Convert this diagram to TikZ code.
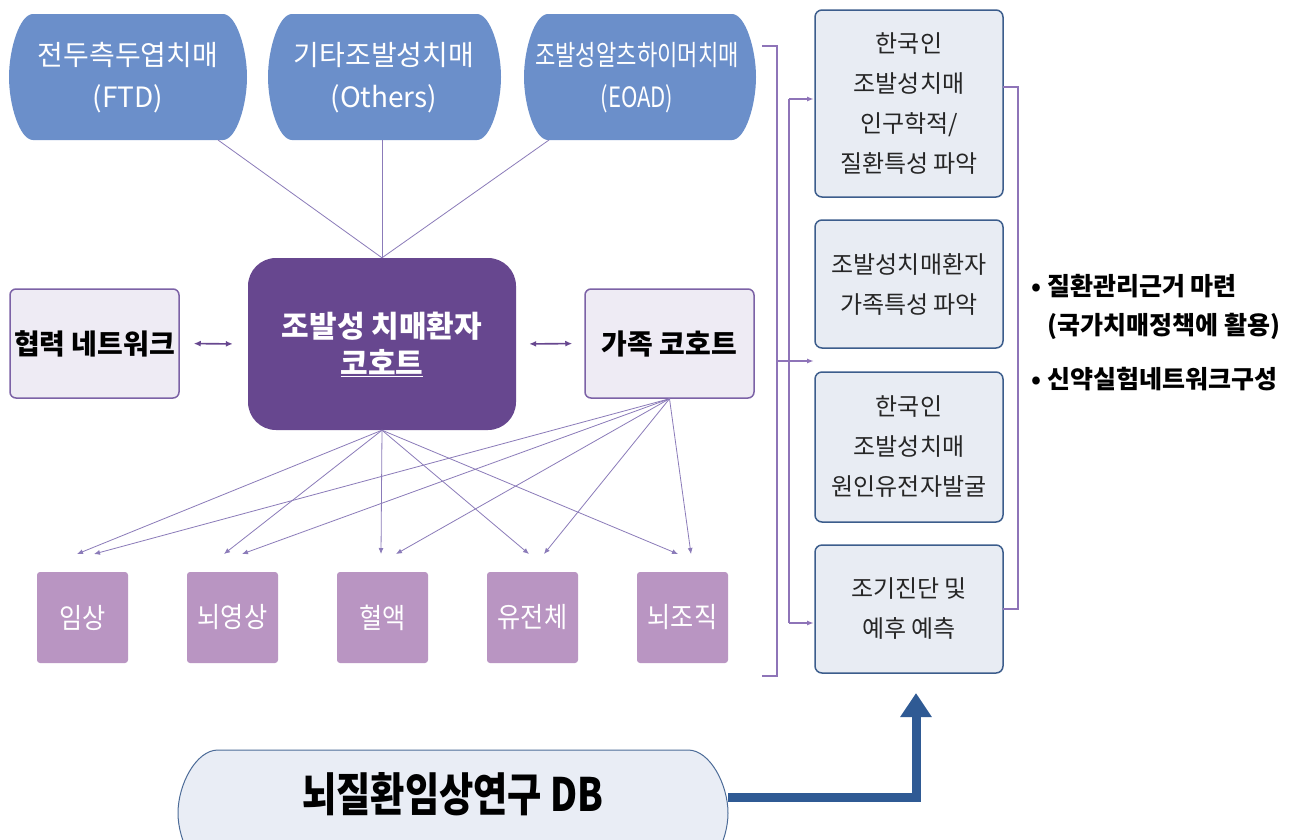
\documentclass[tikz,border=0pt]{standalone}
\usepackage{fontspec}
\setmainfont{Noto Sans CJK KR}
\newfontfamily\condA{Noto Sans CJK KR}[FakeStretch=0.79]
\newfontfamily\condB{Noto Sans CJK KR}[FakeStretch=0.81]
\newfontfamily\condC{Noto Sans CJK KR}[FakeStretch=0.9]
\usetikzlibrary{arrows.meta}
\definecolor{pillblue}{HTML}{6B8FCA}
\definecolor{cenpurple}{HTML}{67478F}
\definecolor{lav}{HTML}{EEEBF4}
\definecolor{lavborder}{HTML}{7C62A6}
\definecolor{mauve}{HTML}{B995C2}
\definecolor{rfill}{HTML}{E8ECF3}
\definecolor{rborder}{HTML}{3C5D8C}
\definecolor{conn}{HTML}{8B7BB9}
\definecolor{brkc}{HTML}{8E74B8}
\definecolor{darrow}{HTML}{2F5A94}
\definecolor{dbfill}{HTML}{E9EDF5}
\definecolor{dbborder}{HTML}{4D6C98}
% #1 style, #2 x1, #3 y1, #4 x2, #5 y2, #6 rx
\newcommand{\pillpath}[6]{%
  \path[#1] ({#2+#6},#3) -- ({#4-#6},#3)
    .. controls ({#4-0.448*#6},#3) and (#4,{#3+0.276*(#5-#3)}) .. (#4,{(#3+#5)/2})
    .. controls (#4,{#5-0.276*(#5-#3)}) and ({#4-0.448*#6},#5) .. ({#4-#6},#5)
    -- ({#2+#6},#5)
    .. controls ({#2+0.448*#6},#5) and (#2,{#5-0.276*(#5-#3)}) .. (#2,{(#3+#5)/2})
    .. controls (#2,{#3+0.276*(#5-#3)}) and ({#2+0.448*#6},#3) .. cycle;}
\begin{document}
\begin{tikzpicture}[x=1pt,y=-1pt,
  toptext/.style={text=white,font=\fontsize{28}{42}\selectfont,align=center},
  cenbox/.style={fill=cenpurple,rounded corners=28pt,minimum width=268pt,minimum height=172pt,
    text=white,font=\bfseries\fontsize{30}{37}\selectfont,align=center},
  sidebox/.style={fill=lav,draw=lavborder,line width=1.5pt,rounded corners=6pt,
    minimum width=169pt,minimum height=109pt,font=\bfseries\fontsize{28}{30}\selectfont},
  botbox/.style={fill=mauve,rounded corners=3pt,minimum width=91pt,minimum height=91pt,
    text=white,font=\condC\fontsize{28}{30}\selectfont},
  rbox/.style={fill=rfill,draw=rborder,line width=1.5pt,rounded corners=7pt,minimum width=188pt,
    text=black!85,font=\fontsize{24}{40}\selectfont,align=center},
  conn/.style={draw=conn,line width=0.8pt},
  connarrow/.style={conn,-{Latex[length=6pt,width=5pt]}},
  dblarrow/.style={draw=cenpurple,line width=1.6pt,{Latex[length=7pt,width=6pt]}-{Latex[length=7pt,width=6pt]}},
  brk/.style={draw=brkc,line width=1.5pt},
  brkarrow/.style={brk,-{Latex[length=7pt,width=5pt]}},
  bullet/.style={anchor=west,font=\bfseries\fontsize{25}{28}\selectfont},
  dbtext/.style={font=\condB\bfseries\fontsize{46}{50}\selectfont,minimum width=550pt},
  bigarrow/.style={draw=darrow,line width=9pt,-{Triangle[length=24pt,width=30pt]}}
]
\clip (0,0) rectangle (1290,839);
\fill[white] (0,0) rectangle (1290,839);

% top pills
\pillpath{fill=pillblue}{9}{14}{247}{140}{24}
\pillpath{fill=pillblue}{268}{14}{501}{140}{24}
\pillpath{fill=pillblue}{524}{14}{756}{140}{24}
\node[toptext] (ftd) at (128,78) {전두측두엽치매\\(FTD)};
\node[toptext] (oth) at (384,78) {기타조발성치매\\(Others)};
\node[toptext,font=\condA\fontsize{28}{42}\selectfont] (eoad) at (637,78) {조발성알츠하이머치매\\(EOAD)};
\coordinate (ftdout) at (218,140);
\coordinate (othout) at (382,140);
\coordinate (eoadout) at (549,140);

% middle row
\node[cenbox] (cen) at (382,344) {조발성 치매환자\\\underline{코호트}};
\node[sidebox] (net) at (94.5,343.5) {협력 네트워크};
\node[sidebox] (fam) at (669.5,343.5) {가족 코호트};

\draw[conn] (ftdout) -- (cen.north);
\draw[conn] (othout) -- (cen.north);
\draw[conn] (eoadout) -- (cen.north);

\draw[dblarrow,shorten <=14pt,shorten >=15pt] (net.east) -- (cen.west);
\draw[dblarrow,shorten <=13pt,shorten >=12pt] (cen.east) -- (fam.west);

% bottom boxes
\node[botbox] (b1) at (82.5,617.5) {임상};
\node[botbox] (b2) at (232.5,617.5) {뇌영상};
\node[botbox] (b3) at (382.5,617.5) {혈액};
\node[botbox] (b4) at (532.5,617.5) {유전체};
\node[botbox] (b5) at (682.5,617.5) {뇌조직};

\coordinate (c1) at (77,554);
\coordinate (c2) at (224,554);
\coordinate (c3) at (381,554);
\coordinate (c4) at (529,554);
\coordinate (c5) at (678,554);
\coordinate (f1) at (94,554);
\coordinate (f2) at (242,554);
\coordinate (f3) at (396,554);
\coordinate (f4) at (544,554);
\coordinate (f5) at (691,554);
\foreach \t in {c1,c2,c3,c4,c5} \draw[connarrow] (cen.south) -- (\t);
\foreach \t in {f1,f2,f3,f4,f5} \draw[connarrow] (fam.south) -- (\t);

% right column
\node[rbox,minimum height=187pt] (r1) at (909,103.5) {한국인\\조발성치매\\인구학적/\\질환특성 파악};
\node[rbox,minimum height=128pt] (r2) at (909,284) {조발성치매환자\\가족특성 파악};
\node[rbox,minimum height=150pt] (r3) at (909,447) {한국인\\조발성치매\\원인유전자발굴};
\node[rbox,minimum height=128pt] (r4) at (909,609) {조기진단 및\\예후 예측};

% brackets
\draw[brk] (762,46) -- (777,46) -- (777,676) -- (762,676);
\coordinate (mid) at (777,361);
\coordinate (midend) at (814,361);
\draw[brkarrow] (mid) -- (midend);
\coordinate (v1) at (789,99);
\coordinate (v4) at (789,623);
\coordinate (a1) at (814,99);
\coordinate (a4) at (814,623);
\draw[brk] (v1) -- (v4);
\draw[brkarrow] (v1) -- (a1);
\draw[brkarrow] (v4) -- (a4);
\coordinate (rb1) at (1003,87);
\coordinate (rb2) at (1003,609);
\draw[brk] (rb1) -- (1018,87) -- (1018,609) -- (rb2);

% bullets
\node[bullet] (t1) at (1028,286) {• 질환관리근거 마련};
\node[bullet] (t2) at (1044,326) {(국가치매정책에 활용)};
\node[bullet] (t3) at (1028,379) {• 신약실험네트워크구성};

% DB pill
\pillpath{fill=dbfill,draw=dbborder,line width=1pt}{178}{750}{728}{876}{40}
\node[dbtext] (db) at (453,794) {뇌질환임상연구 DB};
\coordinate (dbout) at (728,797);
\coordinate (tip) at (916,693);
\draw[bigarrow] (dbout) -| (tip);
\end{tikzpicture}
\end{document}
